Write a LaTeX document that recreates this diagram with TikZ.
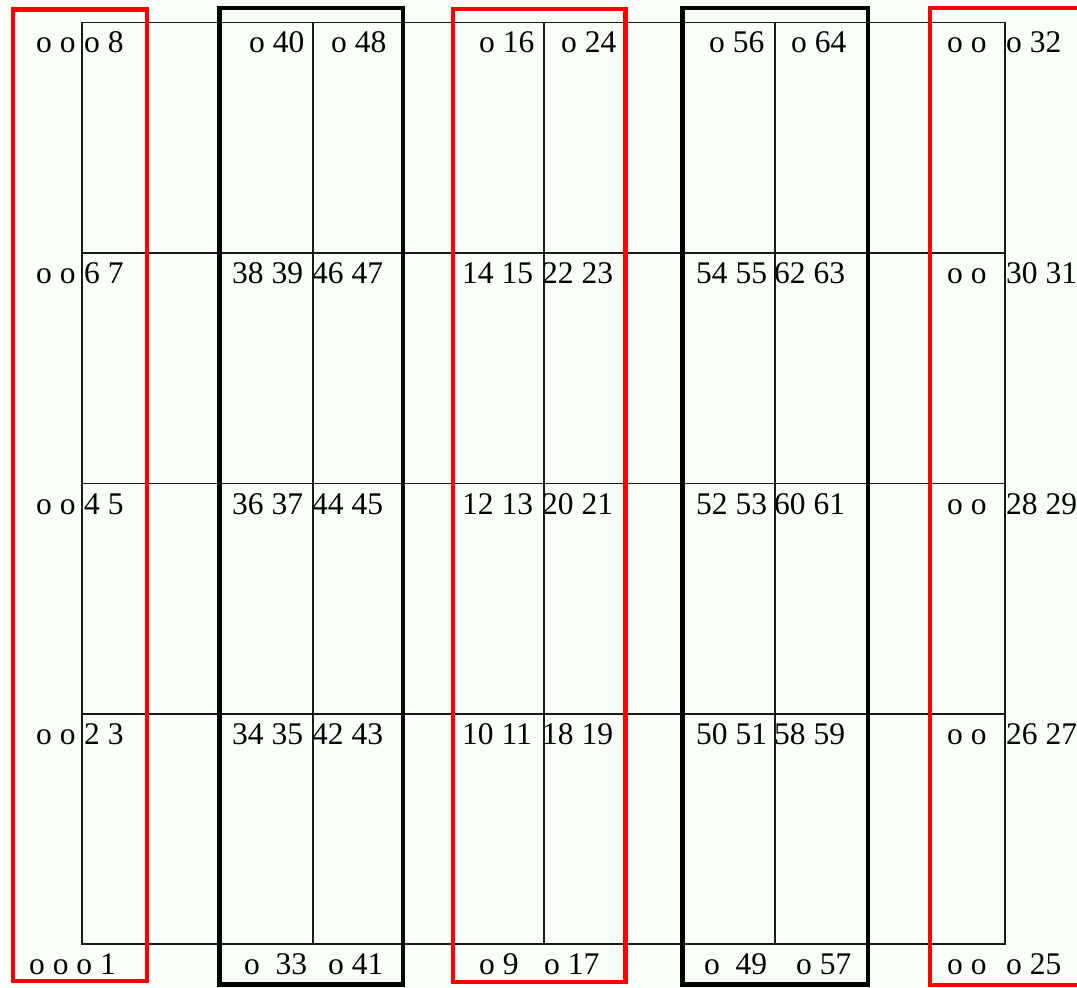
\documentclass[tikz,border=0pt]{standalone}
\usepackage{fontspec}
\setmainfont{Liberation Serif}
\definecolor{paper}{RGB}{250,255,250}

\begin{document}
\begin{tikzpicture}[x=1pt, y=-1pt, every node/.style={font=\fontsize{31.5}{36}\selectfont, inner sep=0pt, anchor=base west}, rule/.style={draw=black!90, line width=1.1pt}, redframe/.style={draw=red, line width=4.5pt}, blackframe/.style={draw=black, line width=4.5pt}]
  \useasboundingbox[fill=paper] (0,0) rectangle (1077,988);
  \clip (0,0) rectangle (1077,988);
  % grid
  \draw[rule] (82,22.5) rectangle (1005,944);
  \draw[rule] (82,253) -- (1005,253) (82,483.5) -- (1005,483.5) (82,714) -- (1005,714);
  \draw[rule] (313,22.5) -- (313,944) (544,22.5) -- (544,944) (775,22.5) -- (775,944);
  % frames
  \draw[redframe] (13,9.5) rectangle (147,981);
  \draw[blackframe] (219.5,8) rectangle (403,984.5);
  \draw[redframe] (453,9) rectangle (625.5,982);
  \draw[blackframe] (682.5,8) rectangle (868,984.5);
  \draw[redframe] (930,8) rectangle (1100,985);
  % top row
  \node (oo0) at (36,52) {o o};
  \node (t8) at (84,52) {o 8};
  \node (t40) at (249,52) {o 40};
  \node (t48) at (331,52) {o 48};
  \node (t16) at (479,52) {o 16};
  \node (t24) at (561,52) {o 24};
  \node (t56) at (709,52) {o 56};
  \node (t64) at (791,52) {o 64};
  \node (oo0r) at (947,52) {o o};
  \node (t32) at (1006,52) {o 32};
  % second row
  \node (oo1) at (36,283) {o o};
  \node (r6) at (84,283) {6 7};
  \node (r38) at (232,283) {38 39};
  \node (r46) at (312,283) {46 47};
  \node (r14) at (462,283) {14 15};
  \node (r22) at (542,283) {22 23};
  \node (r54) at (696,283) {54 55};
  \node (r62) at (774,283) {62 63};
  \node (oo1r) at (947,283) {o o};
  \node (r30) at (1006,283) {30 31};
  % third row
  \node (oo2) at (36,514) {o o};
  \node (r4) at (84,514) {4 5};
  \node (r36) at (232,514) {36 37};
  \node (r44) at (312,514) {44 45};
  \node (r12) at (462,514) {12 13};
  \node (r20) at (542,514) {20 21};
  \node (r52) at (696,514) {52 53};
  \node (r60) at (774,514) {60 61};
  \node (oo2r) at (947,514) {o o};
  \node (r28) at (1006,514) {28 29};
  % fourth row
  \node (oo3) at (36,744) {o o};
  \node (r2) at (84,744) {2 3};
  \node (r34) at (232,744) {34 35};
  \node (r42) at (312,744) {42 43};
  \node (r10) at (462,744) {10 11};
  \node (r18) at (542,744) {18 19};
  \node (r50) at (696,744) {50 51};
  \node (r58) at (774,744) {58 59};
  \node (oo3r) at (947,744) {o o};
  \node (r26) at (1006,744) {26 27};
  % bottom row
  \node (b1) at (29,974) {o o o 1};
  \node (b33) at (244,974) {o\ \ 33};
  \node (b41) at (328,974) {o 41};
  \node (b9) at (479,974) {o 9};
  \node (b17) at (544,974) {o 17};
  \node (b49) at (704,974) {o\ \ 49};
  \node (b57) at (796,974) {o 57};
  \node (oo4r) at (947,974) {o o};
  \node (b25) at (1006,974) {o 25};
\end{tikzpicture}
\end{document}
